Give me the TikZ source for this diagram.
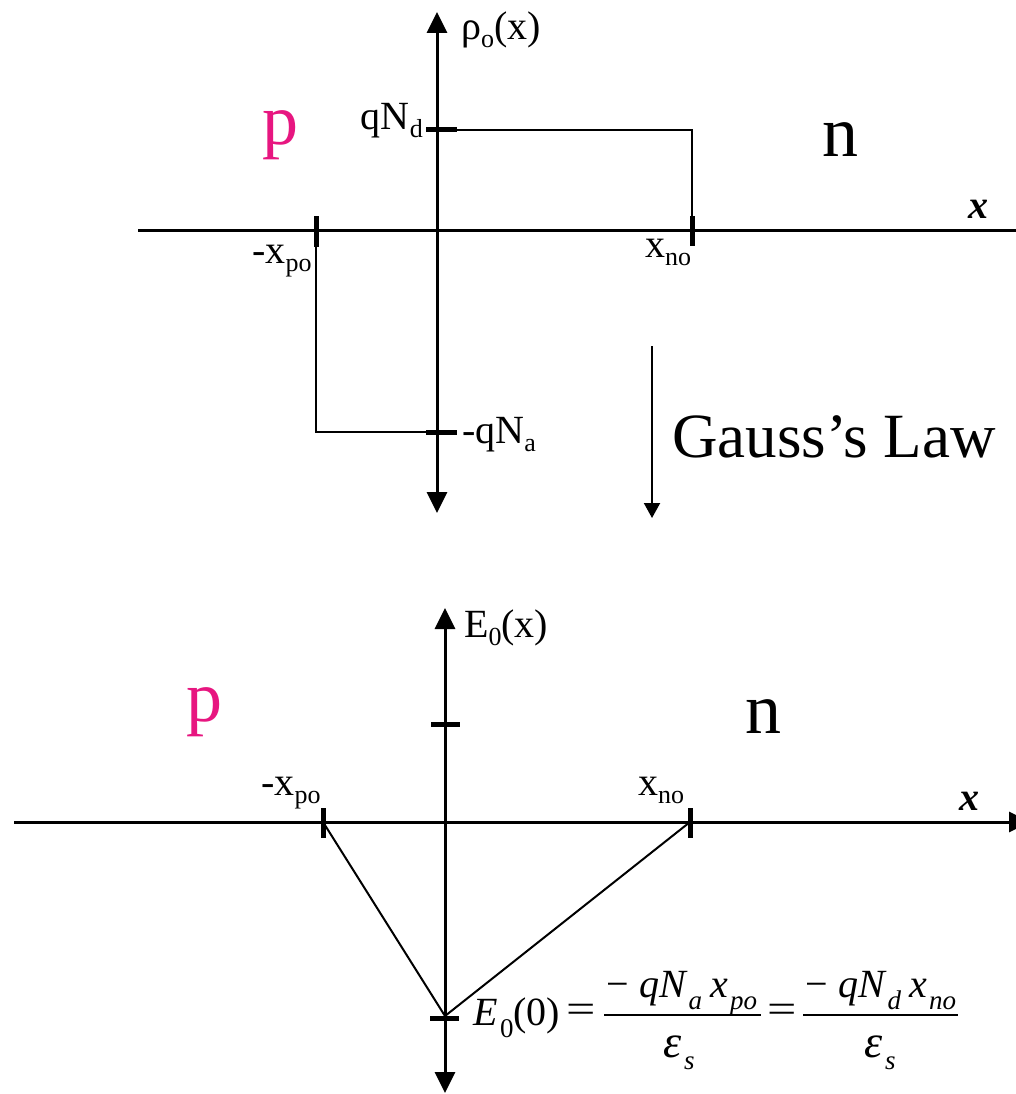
\documentclass[tikz,border=0pt]{standalone}
\usepackage{graphicx}
\usepackage{fontspec}
\setmainfont{Liberation Serif}
\usetikzlibrary{arrows.meta}
\definecolor{pmag}{RGB}{231,22,128}
\newcommand{\lbl}{\fontsize{40}{46}\selectfont}
\newcommand{\regfont}{\fontsize{72}{80}\selectfont}
\newcommand{\sbs}[1]{\raisebox{-0.2em}{\fontsize{26}{28}\selectfont #1}}
\newcommand{\eqs}[1]{\hspace{0.06em}\raisebox{-0.3em}{\fontsize{27}{28}\selectfont #1}}
\newcommand{\eqsign}{\scalebox{1.3}[1]{=}}
\begin{document}
\begin{tikzpicture}[x=1pt,y=-1pt,
  axis/.style={line width=3pt},
  tipbig/.style={-{Triangle[length=21pt,width=20pt]}},
  tick/.style={line width=5pt},
  curve/.style={line width=2pt},
  fracbar/.style={line width=1.8pt},
  lab/.style={inner sep=0pt,font=\lbl},
  eqt/.style={inner sep=0pt,anchor=base,font=\fontsize{40}{44}\selectfont},
  region/.style={inner sep=0pt,font=\regfont},
  xlab/.style={inner sep=0pt,anchor=base,font=\fontsize{40}{44}\selectfont\bfseries\itshape}]
\useasboundingbox (0,0) rectangle (1016,1094);
\fill[white] (0,0) rectangle (1016,1094);

% ---------- top plot ----------
\coordinate (tO) at (437,230);
\coordinate (tTop) at (437,12);
\coordinate (tBot) at (437,513);
\coordinate (tL) at (138,230);
\coordinate (tR) at (1020,230);
\draw[axis,tipbig] (tO) -- (tTop);
\draw[axis,tipbig] (tO) -- (tBot);
\draw[axis] (tL) -- (tR);

\coordinate (nd0) at (437,130);
\coordinate (nd1) at (692,130);
\coordinate (nd2) at (692,230);
\coordinate (na0) at (437,432);
\coordinate (na1) at (316,432);
\coordinate (na2) at (316,230);
\draw[curve] (nd0) -- (nd1) -- (nd2);
\draw[curve] (na0) -- (na1) -- (na2);

\draw[tick] (426,130) -- (457,130);
\draw[tick] (426,432) -- (457,432);
\draw[tick] (692,216) -- (692,246);
\draw[tick] (316,216) -- (316,247);

\node[lab,anchor=base west] (rho) at (461,40) {ρ\sbs{o}(x)};
\node[lab,anchor=base east] (qnd) at (423,130) {qN\sbs{d}};
\node[lab,anchor=base west] (qna) at (462,443) {-qN\sbs{a}};
\node[lab,anchor=base west] (xpo1) at (252,263) {-x\sbs{po}};
\node[lab,anchor=base west] (xno1) at (645,257) {x\sbs{no}};
\node[region,anchor=base,text=pmag] (p1) at (280,145) {p};
\node[region,anchor=base] (n1) at (840,157) {n};
\node[xlab] (x1) at (978,218) {x};

% Gauss arrow
\coordinate (g0) at (652,346);
\coordinate (g1) at (652,518);
\draw[curve,-{Triangle[length=15pt,width=16pt]}] (g0) -- (g1);
\node[inner sep=0pt,anchor=base west,font=\fontsize{63}{70}\selectfont] (gauss) at (672,457) {Gauss’s Law};

% ---------- bottom plot ----------
\coordinate (bO) at (445,822);
\coordinate (bTop) at (445,608);
\coordinate (bBot) at (445,1093);
\coordinate (bL) at (14,822);
\coordinate (bR) at (1030,822);
\draw[axis,tipbig] (bO) -- (bTop);
\draw[axis,tipbig] (bO) -- (bBot);
\draw[axis,tipbig] (bL) -- (bR);

\coordinate (xp) at (323,822);
\coordinate (xn) at (690,822);
\coordinate (emin) at (445,1016);
\draw[curve] (xp) -- (emin) -- (xn);

\draw[tick] (431,724) -- (460,724);
\draw[tick] (430,1018) -- (459,1018);
\draw[tick] (323,808) -- (323,838);
\draw[tick] (690,808) -- (690,838);

\node[lab,anchor=base west] (E0) at (464,637) {E\sbs{0}(x)};
\node[lab,anchor=base west] (xpo2) at (261,795) {-x\sbs{po}};
\node[lab,anchor=base west] (xno2) at (638,795) {x\sbs{no}};
\node[region,anchor=base,text=pmag] (p2) at (204,721) {p};
\node[region,anchor=base] (n2) at (763,733) {n};
\node[xlab] (x2) at (969,810) {x};

% equation
\node[eqt,anchor=base west] (eqlhs) at (473,1025) {\textit{E}\eqs{0}(0)};
\node[eqt] (eqa) at (581,1022) {\eqsign};
\coordinate (b1l) at (604,1015);
\coordinate (b1r) at (761,1015);
\draw[fracbar] (b1l) -- (b1r);
\node[eqt] (num1) at (682,997) {−\hspace{0.25em}\itshape qN\eqs{a}\hspace{0.2em}x\eqs{po}};
\node[eqt] (den1) at (679,1057) {{\fontsize{46}{48}\selectfont\itshape ε}\eqs{\itshape s}};
\node[eqt] (eqb) at (782,1022) {\eqsign};
\coordinate (b2l) at (803,1015);
\coordinate (b2r) at (958,1015);
\draw[fracbar] (b2l) -- (b2r);
\node[eqt] (num2) at (881,997) {−\hspace{0.25em}\itshape qN\eqs{d}\hspace{0.2em}x\eqs{no}};
\node[eqt] (den2) at (880,1057) {{\fontsize{46}{48}\selectfont\itshape ε}\eqs{\itshape s}};
\end{tikzpicture}
\end{document}
